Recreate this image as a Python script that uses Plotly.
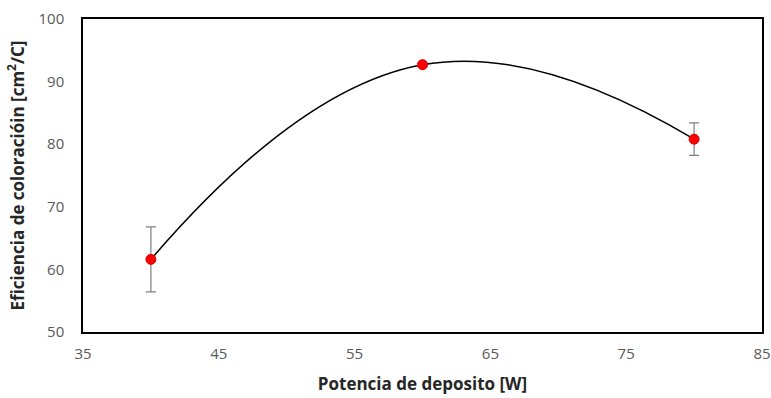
import plotly.graph_objects as go

potencia = [40, 60, 80]
eficiencia = [61.6, 92.7, 80.8]
error = [5.2, 0.3, 2.6]
x_ticks = [35, 45, 55, 65, 75, 85]
y_ticks = [50, 60, 70, 80, 90, 100]

fig = go.Figure()
fig.add_trace(go.Scatter(
    x=potencia, y=eficiencia, mode="lines",
    line=dict(shape="spline", smoothing=1.3, color="black", width=1.5),
    hoverinfo="skip", showlegend=False))
fig.add_trace(go.Scatter(
    x=potencia, y=eficiencia, mode="markers",
    marker=dict(color="#ff0000", size=10, line=dict(color="#e00000", width=1)),
    error_y=dict(type="data", array=error, visible=True, color="#7f7f7f",
                 thickness=1.2, width=5),
    showlegend=False))

font_family = "Open Sans, Lato, sans-serif"
fig.update_layout(
    width=771, height=398,
    margin=dict(l=83, r=9, t=19, b=66, autoexpand=False),
    paper_bgcolor="white", plot_bgcolor="white",
    font=dict(family=font_family),
    xaxis=dict(range=[35, 85], tickvals=x_ticks, ticktext=[str(v) for v in x_ticks],
               showgrid=False, zeroline=False, showline=True, mirror=True,
               linecolor="black", linewidth=1.5, ticks="", automargin=False,
               ticklabelstandoff=7,
               tickfont=dict(size=15, color="#595959"),
               title=dict(text="<b>Potencia de deposito [W]</b>",
                          font=dict(size=17, color="#262626"), standoff=16)),
    yaxis=dict(range=[50, 100], tickvals=y_ticks, ticktext=[str(v) for v in y_ticks],
               showgrid=False, zeroline=False, showline=True, mirror=True,
               linecolor="black", linewidth=1.5, ticks="", automargin=False,
               ticklabelstandoff=14,
               tickfont=dict(size=15, color="#595959"),
               title=dict(text="<b>Eficiencia de coloracióin [cm<sup>2</sup>/C]</b>",
                          font=dict(size=17, color="#262626"), standoff=10)),
)
fig.write_html("out.html", config={"displayModeBar": False},
               post_script="document.body.style.margin='0';document.body.style.overflow='hidden';")
